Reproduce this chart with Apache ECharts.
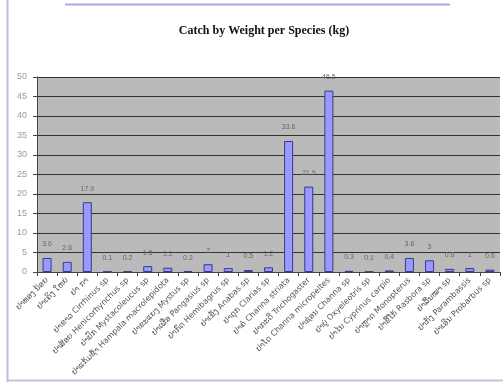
<!DOCTYPE html>
<html>
<head>
<meta charset="utf-8">
<script src="https://cdn.jsdelivr.net/npm/echarts@6/dist/echarts.min.js"></script>
<style>
  html, body { margin: 0; padding: 0; background: #fff; }
  #chart { width: 503px; height: 382px; }
</style>
</head>
<body>
<div id="chart"></div>
<script>
// Species names (local name + scientific name)
const species = [
  'ປາທອງ ນ້ອຍ',
  'ປາເຄິງ ໃຫຍ່',
  'ປາ ກາ',
  'ປາຂາວ Cirrhinus sp',
  'ປາສ້ອຍ Henicorhynchus sp',
  'ປາປົກ Mystacoleucus sp',
  'ປາແກ້ມຊ້ຳ Hampala macrolepidota',
  'ປາຂະແຍງ Mystus sp',
  'ປາເຜືອ Pangasius sp',
  'ປາກົດ Hemibagrus sp',
  'ປາເຂັງ Anabas sp',
  'ປາດຸກ Clarias sp',
  'ປາຄໍ Channa striata',
  'ປາກະດີ Trichogaster',
  'ປາໂດ Channa micropeltes',
  'ປາຊ່ອນ Channa sp',
  'ປາບູ່ Oxyeleotris sp',
  'ປາໄນ Cyprinus carpio',
  'ປາຫຼາດ Monopterus',
  'ປາຂີ້ໂກ້ Rasbora sp',
  'ປາລີ້ນໝາ sp',
  'ປາກັງ Parambassis',
  'ປາເອີນ Probarbus sp'
];

// Catch weight per species (kg)
const catchKg = [3.6, 2.6, 17.9, 0.1, 0.2, 1.5, 1.1, 0.2, 2, 1, 0.5, 1.2,
                 33.6, 21.9, 46.5, 0.3, 0.1, 0.4, 3.6, 3, 0.8, 1, 0.6];

// Value axis range
const yMin = 0;
const yMax = 50;
const yStep = 5;

const chart = echarts.init(document.getElementById('chart'), null, { renderer: 'canvas' });

chart.setOption({
  animation: false,
  backgroundColor: '#ffffff',
  title: {
    text: 'Catch by Weight per Species (kg)',
    left: 259,
    top: 20,
    textAlign: 'center',
    textStyle: {
      fontFamily: '"Liberation Serif", "Times New Roman", serif',
      fontSize: 12,
      fontWeight: 'bold',
      color: '#111'
    }
  },
  grid: {
    left: 37,
    right: 3,
    top: 77,
    bottom: 110,
    show: true,
    backgroundColor: '#bababa',
    borderWidth: 0,
    outerBoundsMode: 'none'
  },
  xAxis: {
    type: 'category',
    data: species,
    boundaryGap: true,
    axisLine: { show: true, lineStyle: { color: '#444', width: 1 } },
    axisTick: { show: true, alignWithLabel: false, length: 4, lineStyle: { color: '#444' } },
    axisLabel: {
      interval: 0,
      rotate: 45,
      fontSize: 8,
      margin: 7,
      color: '#555',
      fontFamily: '"DejaVu Sans", "Liberation Sans", sans-serif'
    }
  },
  yAxis: {
    type: 'value',
    min: yMin,
    max: yMax,
    interval: yStep,
    axisLine: { show: true, lineStyle: { color: '#444' } },
    axisTick: { show: true, length: 4, lineStyle: { color: '#444' } },
    axisLabel: {
      fontSize: 9,
      margin: 10,
      color: '#9a9a9a',
      fontFamily: '"Liberation Sans", Arial, sans-serif'
    },
    splitLine: { show: true, lineStyle: { color: '#333', width: 1 } }
  },
  series: [{
    type: 'bar',
    data: catchKg,
    barWidth: 9,
    itemStyle: {
      color: '#9999ff',
      borderColor: '#3a3a8a',
      borderWidth: 1
    },
    label: {
      show: true,
      position: 'top',
      distance: 10,
      fontSize: 7,
      color: '#666',
      fontFamily: '"Liberation Sans", Arial, sans-serif'
    }
  }],
  graphic: [
    { type: 'line', shape: { x1: 7.5, y1: 0, x2: 7.5, y2: 382 }, style: { stroke: '#b8bce6', lineWidth: 2 } },
    { type: 'line', shape: { x1: 65, y1: 4.5, x2: 450, y2: 4.5 }, style: { stroke: '#a8a8e6', lineWidth: 2 } },
    { type: 'line', shape: { x1: 7, y1: 380.5, x2: 503, y2: 380.5 }, style: { stroke: '#c4c4d8', lineWidth: 2 } }
  ]
});
</script>
</body>
</html>
